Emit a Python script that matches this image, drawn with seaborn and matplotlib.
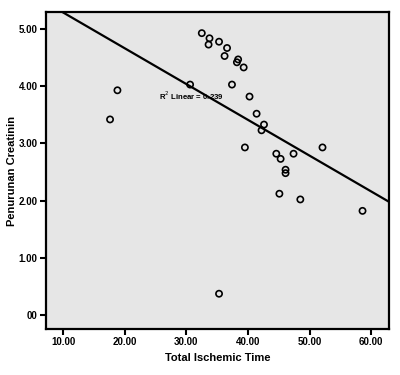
import matplotlib

matplotlib.use("Agg")
import matplotlib.pyplot as plt
import numpy as np
import pandas as pd
import seaborn as sns

# Total ischemic time (x) vs. creatinine decrease (y)
ischemic_time = [17.6, 18.8, 30.6, 32.5, 33.75, 33.6, 35.3, 36.6, 36.2, 38.4,
                 38.2, 39.3, 37.4, 40.25, 41.4, 42.6, 42.2, 39.5, 44.6, 45.3,
                 47.4, 52.1, 46.1, 46.1, 45.1, 48.5, 58.6, 35.3]
creatinin_drop = [3.42, 3.93, 4.03, 4.93, 4.84, 4.73, 4.78, 4.67, 4.53, 4.47,
                  4.42, 4.33, 4.03, 3.82, 3.52, 3.33, 3.23, 2.93, 2.82, 2.73,
                  2.82, 2.93, 2.54, 2.48, 2.12, 2.02, 1.82, 0.37]
x_ticks = [10, 20, 30, 40, 50, 60]
x_ticklabels = ["10.00", "20.00", "30.00", "40.00", "50.00", "60.00"]
y_ticks = [0, 1, 2, 3, 4, 5]
y_ticklabels = ["00", "1.00", "2.00", "3.00", "4.00", "5.00"]
r2_label = "R$^2$ Linear = 0.239"

df = pd.DataFrame({"Total Ischemic Time": ischemic_time,
                   "Penurunan Creatinin": creatinin_drop})

sns.set_style("white")
plt.rcParams["font.family"] = ["Liberation Sans", "DejaVu Sans"]
plt.rcParams.update({"text.color": "black", "axes.labelcolor": "black",
                     "xtick.color": "black", "ytick.color": "black"})

fig = plt.figure(figsize=(4.0, 3.75), dpi=100)
ax = fig.add_axes([0.115, 0.123, 0.8575, 0.845])
ax.set_facecolor("#e6e6e6")
ax.set_xlim(7.2, 62.9)
ax.set_ylim(-0.245, 5.30)

sns.regplot(data=df, x="Total Ischemic Time", y="Penurunan Creatinin", ax=ax,
            ci=None, truncate=False,
            scatter_kws=dict(s=20, facecolors="none", edgecolors="black",
                             linewidths=1.2, alpha=1),
            line_kws=dict(color="black", linewidth=1.6))
ax.set_xlim(7.2, 62.9)
ax.set_ylim(-0.245, 5.30)

ax.set_xticks(x_ticks, x_ticklabels)
ax.set_yticks(y_ticks, y_ticklabels)
ax.tick_params(direction="out", length=4, width=1.5, labelsize=7, pad=2,
               bottom=True, left=True, colors="black")
for lab in ax.get_xticklabels() + ax.get_yticklabels():
    lab.set_fontweight("bold")
for sp in ax.spines.values():
    sp.set_linewidth(1.6)
    sp.set_color("black")

ax.set_xlabel("Total Ischemic Time", fontsize=8, fontweight="bold", labelpad=4.5)
ax.set_ylabel("Penurunan Creatinin", fontsize=8, fontweight="bold", labelpad=1.5)
ax.text(25.6, 3.84, r2_label, fontsize=5.6, fontweight="bold", va="center", ha="left")

fig.savefig("out.png", dpi=100)
